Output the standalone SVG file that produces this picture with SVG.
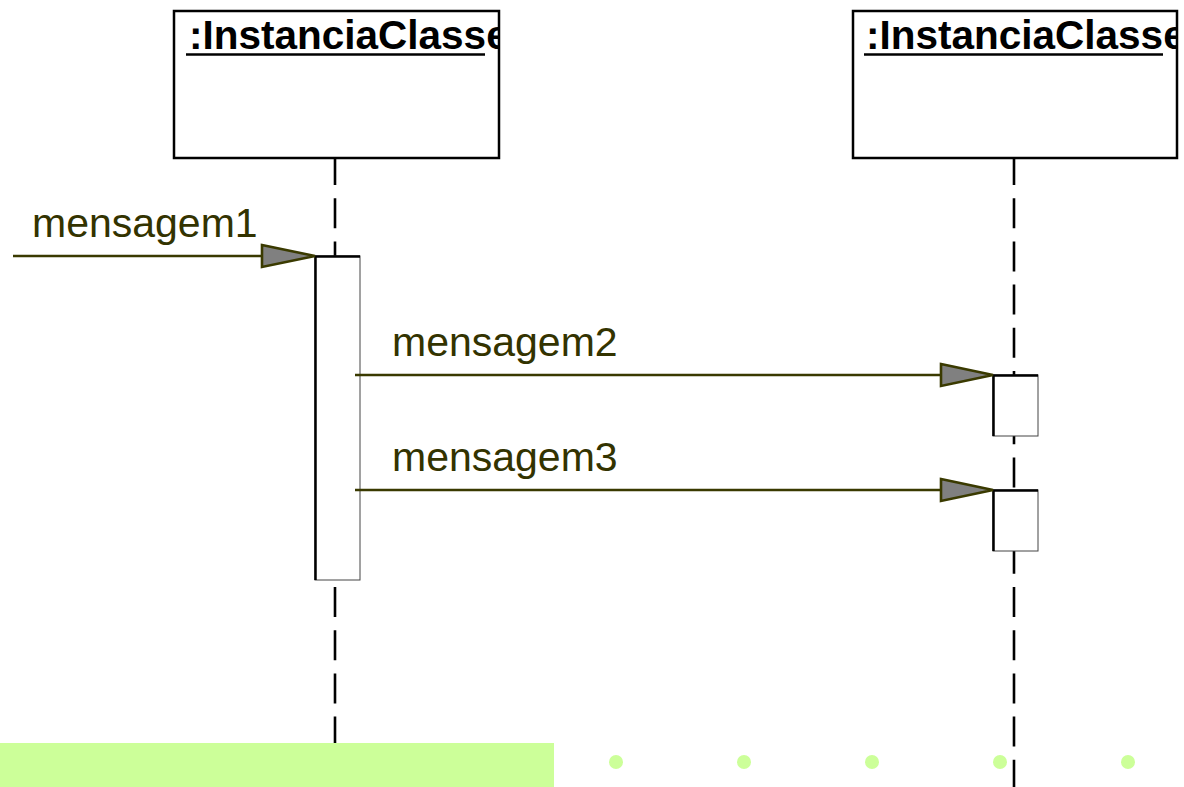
<svg xmlns="http://www.w3.org/2000/svg" width="1184" height="787" viewBox="0 0 1184 787">
  <style>
    .obj { fill: #ffffff; stroke: #000000; stroke-width: 2.5; }
    .title { font-family: "Liberation Sans", Arial, sans-serif; font-weight: bold; font-size: 40.5px; fill: #000000; }
    .uline { stroke: #000000; stroke-width: 2.5; }
    .life { stroke: #000000; stroke-width: 2.6; stroke-dasharray: 30 13.2; fill: none; }
    .act { fill: #ffffff; stroke: #444444; stroke-width: 1; }
    .actedge { fill: none; stroke: #000000; stroke-width: 2.5; }
    .msg { stroke: #3a3a00; stroke-width: 2.6; fill: none; }
    .head { fill: #808080; stroke: #3a3a00; stroke-width: 2.6; stroke-linejoin: miter; }
    .label { font-family: "Liberation Sans", Arial, sans-serif; font-size: 41px; fill: #333300; }
    .band { fill: #ccff99; }
  </style>
  <defs>
    <clipPath id="clipA"><rect x="175" y="12" width="323" height="144"/></clipPath>
    <clipPath id="clipB"><rect x="854" y="12" width="322" height="144"/></clipPath>
  </defs>

  <rect width="1184" height="787" fill="#ffffff"/>

  <!-- lifelines -->
  <g id="lifelines">
    <line class="life" x1="335" y1="155" x2="335" y2="787"/>
    <line class="life" x1="1014" y1="155" x2="1014" y2="787"/>
  </g>

  <!-- object 1 -->
  <g id="obj1">
    <rect class="obj" x="174" y="11" width="325" height="147"/>
    <g clip-path="url(#clipA)">
      <text class="title" x="189" y="49">:InstanciaClasse</text>
    </g>
    <line class="uline" x1="186" y1="54.5" x2="485" y2="54.5"/>
  </g>

  <!-- object 2 -->
  <g id="obj2">
    <rect class="obj" x="853" y="11" width="324" height="147"/>
    <g clip-path="url(#clipB)">
      <text class="title" x="866" y="49">:InstanciaClasse</text>
    </g>
    <line class="uline" x1="864" y1="54.5" x2="1163" y2="54.5"/>
  </g>

  <!-- activation bars -->
  <g id="act1">
    <rect class="act" x="315" y="256" width="45" height="324"/>
    <polyline class="actedge" points="315.5,580 315.5,256.5 360,256.5"/>
  </g>
  <g id="act2">
    <rect class="act" x="993" y="375" width="45" height="61"/>
    <polyline class="actedge" points="993.5,436 993.5,375.5 1038,375.5"/>
  </g>
  <g id="act3">
    <rect class="act" x="993" y="490" width="45" height="61"/>
    <polyline class="actedge" points="993.5,551 993.5,490.5 1038,490.5"/>
  </g>

  <!-- messages -->
  <g id="connectors">
    <line class="msg" x1="13" y1="256" x2="262" y2="256"/>
    <polygon class="head" points="262,245 315,256 262,267"/>
    <line class="msg" x1="355" y1="375" x2="941" y2="375"/>
    <polygon class="head" points="941,364 993,375 941,386"/>
    <line class="msg" x1="355" y1="490" x2="941" y2="490"/>
    <polygon class="head" points="941,479 993,490 941,501"/>
  </g>

  <g id="labels">
    <text class="label" x="32" y="237">mensagem1</text>
    <text class="label" x="392" y="356">mensagem2</text>
    <text class="label" x="392" y="471">mensagem3</text>
  </g>

  <!-- footer band -->
  <g id="footer">
    <rect class="band" x="0" y="743" width="554" height="44"/>
    <circle class="band" cx="616" cy="762" r="7"/>
    <circle class="band" cx="744" cy="762" r="7"/>
    <circle class="band" cx="872" cy="762" r="7"/>
    <circle class="band" cx="1000" cy="762" r="7"/>
    <circle class="band" cx="1128" cy="762" r="7"/>
  </g>
</svg>
